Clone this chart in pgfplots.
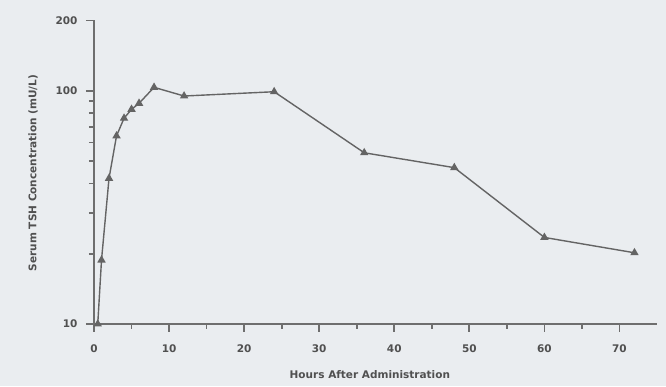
\documentclass[border=0pt]{standalone}
\usepackage{fontspec}
\setmainfont{DejaVu Sans}
\usepackage{pgfplots}
\pgfplotsset{compat=1.18}
\definecolor{bg}{RGB}{234,237,240}
\definecolor{ln}{RGB}{100,100,100}
\definecolor{ax}{RGB}{110,110,110}
\definecolor{txt}{RGB}{80,80,80}
\begin{document}
\begin{tikzpicture}[x=1pt,y=1pt]
\fill[bg] (-94,-62) rectangle (572,324);
\begin{axis}[
  at={(0,0)}, anchor=south west,
  scale only axis, width=563pt, height=303.5pt,
  xmin=0, xmax=75, ymin=10, ymax=200, ymode=log,
  axis x line*=bottom, axis y line*=left,
  axis line style={ax, line width=1.5pt},
  xtick={0,10,...,70}, minor xtick={5,15,...,65},
  ytick={10,100,200}, yticklabels={10,100,200},
  minor ytick={20,30,40,50,60,70,80,90},
  xtick align=outside, ytick align=outside,
  major tick length=8pt, minor tick length=5pt,
  every major tick/.append style={ax, line width=1.8pt},
  every minor tick/.append style={ax, line width=1.8pt},
  /pgf/number format/assume math mode=true,
  every tick label/.append style={font=\fontsize{10.5}{12}\selectfont\bfseries, text=txt},
  xticklabel shift=9pt,
  yticklabel shift=5pt,
  xlabel={Hours After Administration},
  ylabel={Serum TSH Concentration (mU/L)},
  label style={font=\fontsize{10.5}{12}\selectfont\bfseries, text=txt},
  xlabel style={at={(axis description cs:0.490,-0.168)}, anchor=center},
  ylabel style={at={(axis description cs:-0.1083,0.4975)}, anchor=center},
  clip=false,
]
\addplot[ln, line width=1.4pt, mark=triangle*, mark size=3.5pt, mark options={fill=ln, solid}] coordinates {
  (0.5,10) (1,18.8) (2,42.1) (3,64.0) (4,76.2) (5,83.2) (6,88.3) (8,103.4)
  (12,94.9) (24,99.0) (36,54.2) (48,46.8) (60,23.5) (72,20.2)
};
\end{axis}
\end{tikzpicture}
\end{document}
